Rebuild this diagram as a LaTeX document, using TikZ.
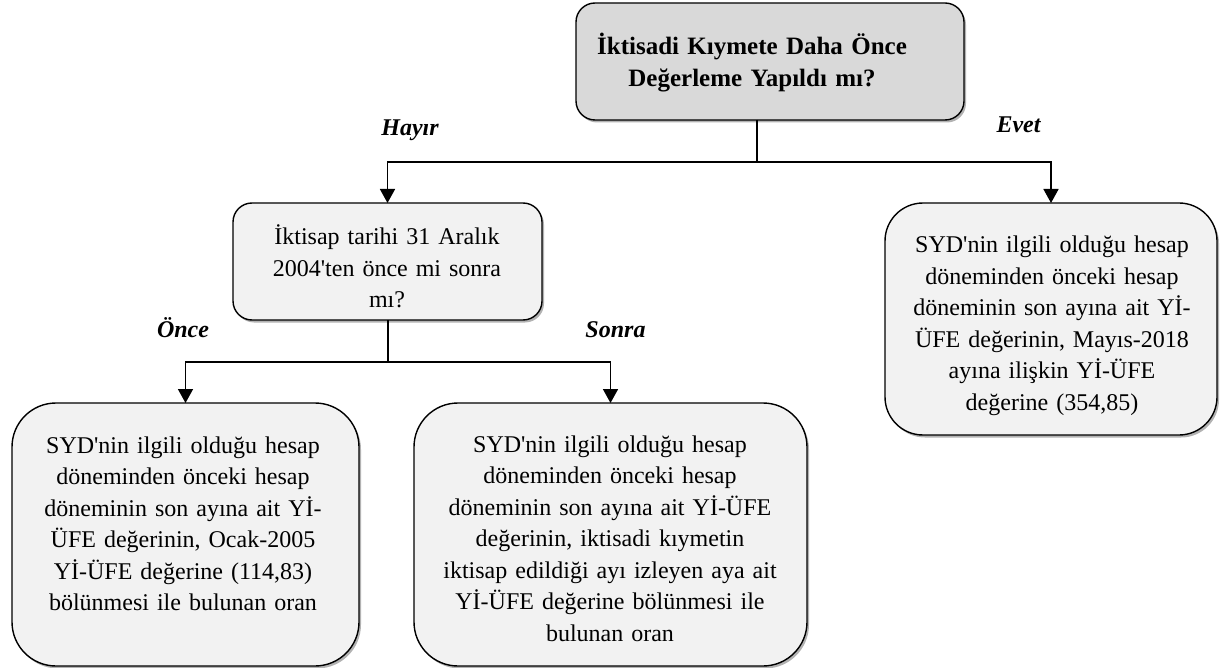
\documentclass[tikz,border=0pt]{standalone}
\usepackage{fontspec}
\setmainfont{Liberation Serif}
\usetikzlibrary{arrows.meta,shadows}
\definecolor{topgray}{HTML}{D9D9D9}
\definecolor{boxgray}{HTML}{F2F2F2}
\newcommand{\sq}{\textquotesingle}
\begin{document}
\begin{tikzpicture}[x=1pt,y=-1pt,
  rbox/.style={draw=black, line width=1.4pt, rounded corners=#1, fill=boxgray,
    inner sep=0pt, outer sep=0pt,
    drop shadow={shadow xshift=2pt, shadow yshift=-2.5pt, fill=black, opacity=0.3}},
  txt/.style={font=\fontsize{24}{31.5}\selectfont, align=center, text width=#1, inner sep=0pt, anchor=base},
  txtb/.style={font=\bfseries\fontsize{25}{32}\selectfont, align=center, text width=#1, inner sep=0pt, anchor=base},
  lbl/.style={font=\bfseries\itshape\fontsize{24}{28}\selectfont, inner sep=0pt, anchor=base},
  conn/.style={line width=1.6pt},
  arr/.style={line width=1.6pt, -{Triangle[width=15pt,length=14pt]}}]
\useasboundingbox (0,0) rectangle (1223,668);
% boxes
\node[rbox=19pt, fill=topgray, minimum width=388pt, minimum height=117pt] (top) at (770,61.5) {};
\node[rbox=19pt, minimum width=309pt, minimum height=117pt] (mid) at (387.5,261.5) {};
\node[rbox=38pt, minimum width=332pt, minimum height=232pt] (right) at (1051,319) {};
\node[rbox=44pt, minimum width=347pt, minimum height=263pt] (bl) at (185.5,534.5) {};
\node[rbox=44pt, minimum width=393pt, minimum height=263pt] (bm) at (610.5,534.5) {};
% texts
\node[txtb=380pt] (toptxt) at (752,55) {İktisadi Kıymete Daha Önce\\Değerleme Yapıldı mı?};
\node[txt=300pt] (midtxt) at (387,245) {İktisap tarihi 31 Aralık\\2004\sq ten önce mi sonra\\mı?};
\node[txt=325pt] (righttxt) at (1052,253) {SYD\sq nin ilgili olduğu hesap\\döneminden önceki hesap\\döneminin son ayına ait Yİ-\\ÜFE değerinin, Mayıs-2018\\ayına ilişkin Yİ-ÜFE\\değerine (354,85)};
\node[txt=340pt] (bltxt) at (183,453) {SYD\sq nin ilgili olduğu hesap\\döneminden önceki hesap\\döneminin son ayına ait Yİ-\\ÜFE değerinin, Ocak-2005\\Yİ-ÜFE değerine (114,83)\\bölünmesi ile bulunan oran};
\node[txt=385pt] (bmtxt) at (610,452) {SYD\sq nin ilgili olduğu hesap\\döneminden önceki hesap\\döneminin son ayına ait Yİ-ÜFE\\değerinin, iktisadi kıymetin\\iktisap edildiği ayı izleyen aya ait\\Yİ-ÜFE değerine bölünmesi ile\\bulunan oran};
% labels
\node[lbl] (hayir) at (410,136) {Hayır};
\node[lbl] (evet) at (1018.5,133) {Evet};
\node[lbl] (once) at (183,337) {Önce};
\node[lbl] (sonra) at (615.5,337) {Sonra};
% connectors
\coordinate (j1) at (757,162);
\coordinate (j2) at (388,362);
\draw[conn] (top.south -| j1) -- (j1);
\draw[arr] (j1) -| (mid.north);
\draw[arr] (j1) -| (right.north);
\draw[conn] (mid.south -| j2) -- (j2);
\draw[arr] (j2) -| (bl.north);
\draw[arr] (j2) -| (bm.north);
\end{tikzpicture}
\end{document}
